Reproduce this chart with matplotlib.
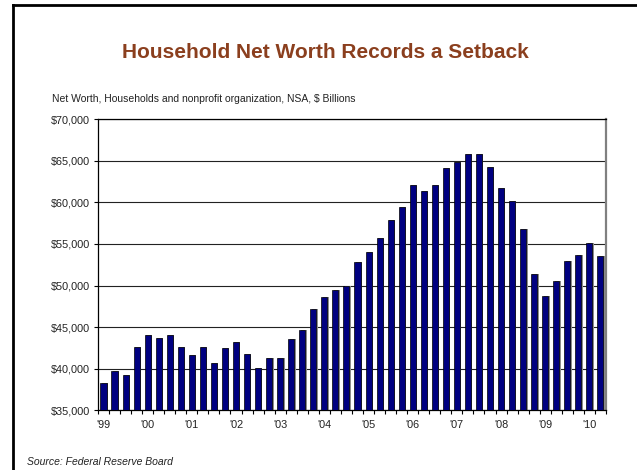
import matplotlib
matplotlib.use('Agg')
import matplotlib.pyplot as plt
from matplotlib.lines import Line2D
import numpy as np

plt.rcParams['font.family'] = ['Liberation Sans', 'DejaVu Sans']

# quarterly net worth, 1999 Q1 - 2010 Q2, $ billions
net_worth = [38360, 39770, 39250, 42650,
             44090, 43730, 44090, 42650,
             41690, 42650, 40730, 42530,
             43250, 41810, 40090, 41330,
             41330, 43570, 44610, 47200,
             48620, 49500, 49980, 52820,
             54060, 55750, 57900, 59470,
             62030, 61390, 62030, 64160,
             64880, 65760, 65760, 64240,
             61710, 60190, 56830, 51380,
             48780, 50540, 52980, 53660,
             55070, 53540]
year_labels = ["'99", "'00", "'01", "'02", "'03", "'04",
               "'05", "'06", "'07", "'08", "'09", "'10"]
y_ticks = [35000, 40000, 45000, 50000, 55000, 60000, 65000, 70000]

fig = plt.figure(figsize=(6.37, 4.70), dpi=100)
ax = fig.add_axes([0.1538, 0.1266, 0.7975, 0.6202])

x = np.arange(len(net_worth))
base = 35000
vals = np.array(net_worth) - base
# shadow behind each bar
ax.bar(x + 0.12, vals, width=0.55, bottom=base, color='#8c8c8c', zorder=2)
ax.bar(x, vals, width=0.55, bottom=base, color='#000080',
       edgecolor='black', linewidth=0.5, zorder=3)

ax.set_xlim(-0.5, len(net_worth) - 0.5)
ax.set_ylim(35000, 70000)
ax.set_yticks(y_ticks)
ax.set_yticklabels(['$' + format(v, ',') for v in y_ticks], fontsize=7.8,
                   color='#222222')
ax.yaxis.grid(True, color='#222222', linewidth=0.8, zorder=1)
ax.tick_params(axis='y', length=3, width=0.8, pad=3)

ax.set_xticks(np.arange(0, len(net_worth), 4))
ax.set_xticklabels(year_labels, fontsize=7.8, color='#222222')
ax.tick_params(axis='x', which='major', length=0, pad=7)
ax.set_xticks(np.arange(-0.5, len(net_worth), 1), minor=True)
ax.tick_params(axis='x', which='minor', length=3, width=0.8)

for s in ['left', 'bottom', 'top']:
    ax.spines[s].set_color('black')
    ax.spines[s].set_linewidth(0.9)
ax.spines['right'].set_color('#808080')
ax.spines['right'].set_linewidth(1.6)

fig.text(0.511, 1 - 53 / 470, 'Household Net Worth Records a Setback',
         ha='center', va='center', fontsize=15, fontweight='bold',
         color='#8B3F1E')
fig.text(52 / 637, 1 - 99 / 470,
         'Net Worth, Households and nonprofit organization, NSA, $ Billions',
         ha='left', va='center', fontsize=7.5, color='#222222')
fig.text(27 / 637, 1 - 462 / 470, 'Source: Federal Reserve Board',
         ha='left', va='center', fontsize=7.5, style='italic', color='#222222')

# outer frame (left and top only)
fig.add_artist(Line2D([13 / 637, 13 / 637], [0, 1 - 5 / 470],
                      transform=fig.transFigure, color='black', linewidth=2))
fig.add_artist(Line2D([13 / 637, 1], [1 - 5 / 470, 1 - 5 / 470],
                      transform=fig.transFigure, color='black', linewidth=2))

fig.savefig('out.png', dpi=100)
